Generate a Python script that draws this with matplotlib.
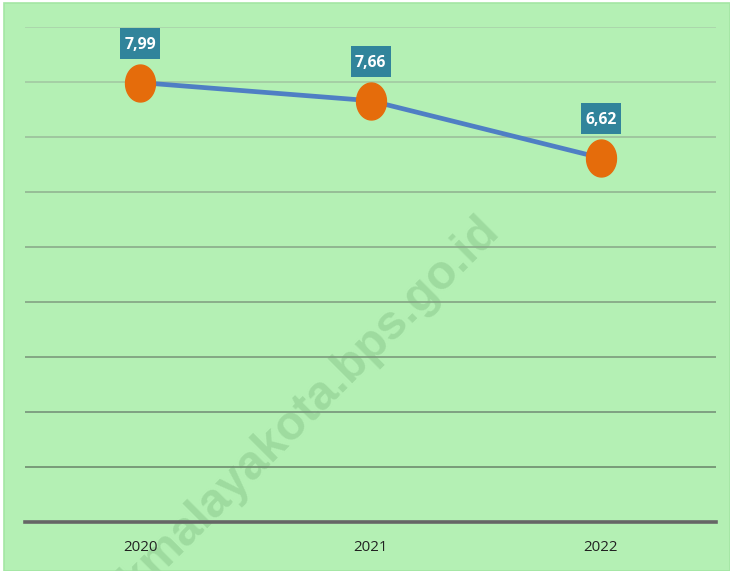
import matplotlib
matplotlib.use("Agg")
import matplotlib.pyplot as plt
from matplotlib.path import Path
from matplotlib.patches import Rectangle
from matplotlib.transforms import Affine2D, ScaledTranslation
from matplotlib import font_manager
import numpy as np

years = ["2020", "2021", "2022"]
values = [7.99, 7.66, 6.62]
labels = ["7,99", "7,66", "6,62"]
y_grid = [1, 2, 3, 4, 5, 6, 7, 8, 9]

names = {f.name for f in font_manager.fontManager.ttflist}
narrow = "Liberation Sans Narrow" if "Liberation Sans Narrow" in names else "Open Sans"
is_narrow = narrow != "Open Sans"

W, H = 730, 571
fig = plt.figure(figsize=(W / 100, H / 100), dpi=100, facecolor="white")
bg = "#b4f0b4"
fig.patches.append(Rectangle((4 / W, 0), 1 - 4 / W, 1 - 3 / H, transform=fig.transFigure,
                             facecolor=bg, edgecolor="#a4e6a4", linewidth=1.2, zorder=-10))

# watermark
fig.text(501 / W, 1 - 234 / H, "tasikmalayakota.bps.go.id", rotation=45, rotation_mode="anchor",
         ha="right", va="baseline", fontsize=34.5, fontweight="bold", family="Liberation Sans",
         color="#9edb9f", zorder=-5)

ax = fig.add_axes([25 / W, 1 - 522 / H, (716 - 25) / W, (522 - 27) / H])
ax.set_facecolor("none")
ax.set_xlim(-0.5, 2.5)
ax.set_ylim(0, 9)

# gridlines, darker towards the bottom
grid_cols = ["#6f8c6f", "#76937a", "#7c9a7c", "#83a283", "#8aab8a", "#92b592", "#9bbf9b", "#a3c9a3", "#aad2aa"]
for yv, c in zip(y_grid, grid_cols):
    ax.axhline(yv, color=c, linewidth=1.2, zorder=1)
ax.axhline(0, color="#666666", linewidth=2.6, zorder=2, clip_on=False)

for s in ax.spines.values():
    s.set_visible(False)
ax.set_yticks([])
x = np.arange(len(years))
ax.set_xticks(x)
ax.set_xticklabels(years, fontsize=12 if is_narrow else 10.8, color="#222222", family=[narrow, "DejaVu Sans"])
ax.tick_params(axis="x", length=0, pad=13)

# ellipse marker
t = np.linspace(0, 2 * np.pi, 60)
ell = Path(np.column_stack([0.81 * np.cos(t), np.sin(t)]), closed=True)

ax.plot(x, values, color="#4f7fc4", linewidth=3.4, zorder=3, solid_capstyle="round")
ax.plot(x, values, linestyle="none", marker=ell, markersize=26.6, markerfacecolor="#e56c0b",
        markeredgecolor="#e56c0b", zorder=4)

for xi, v, lab in zip(x, values, labels):
    tr = Affine2D().translate(-20, 24) + ScaledTranslation(xi, v, ax.transData)
    box = Rectangle((0, 0), 40, 31, transform=tr, facecolor="#31849b", edgecolor="none",
                    zorder=5, clip_on=False)
    ax.add_artist(box)
    ax.annotate(lab, (xi, v), xytext=(0, 28.4), textcoords="offset points", ha="center", va="center_baseline",
                fontsize=12.5 if is_narrow else 11.3, fontweight="bold", color="white",
                family=[narrow, "DejaVu Sans"], zorder=6, annotation_clip=False)

fig.savefig("out.png", dpi=100, facecolor="white")
